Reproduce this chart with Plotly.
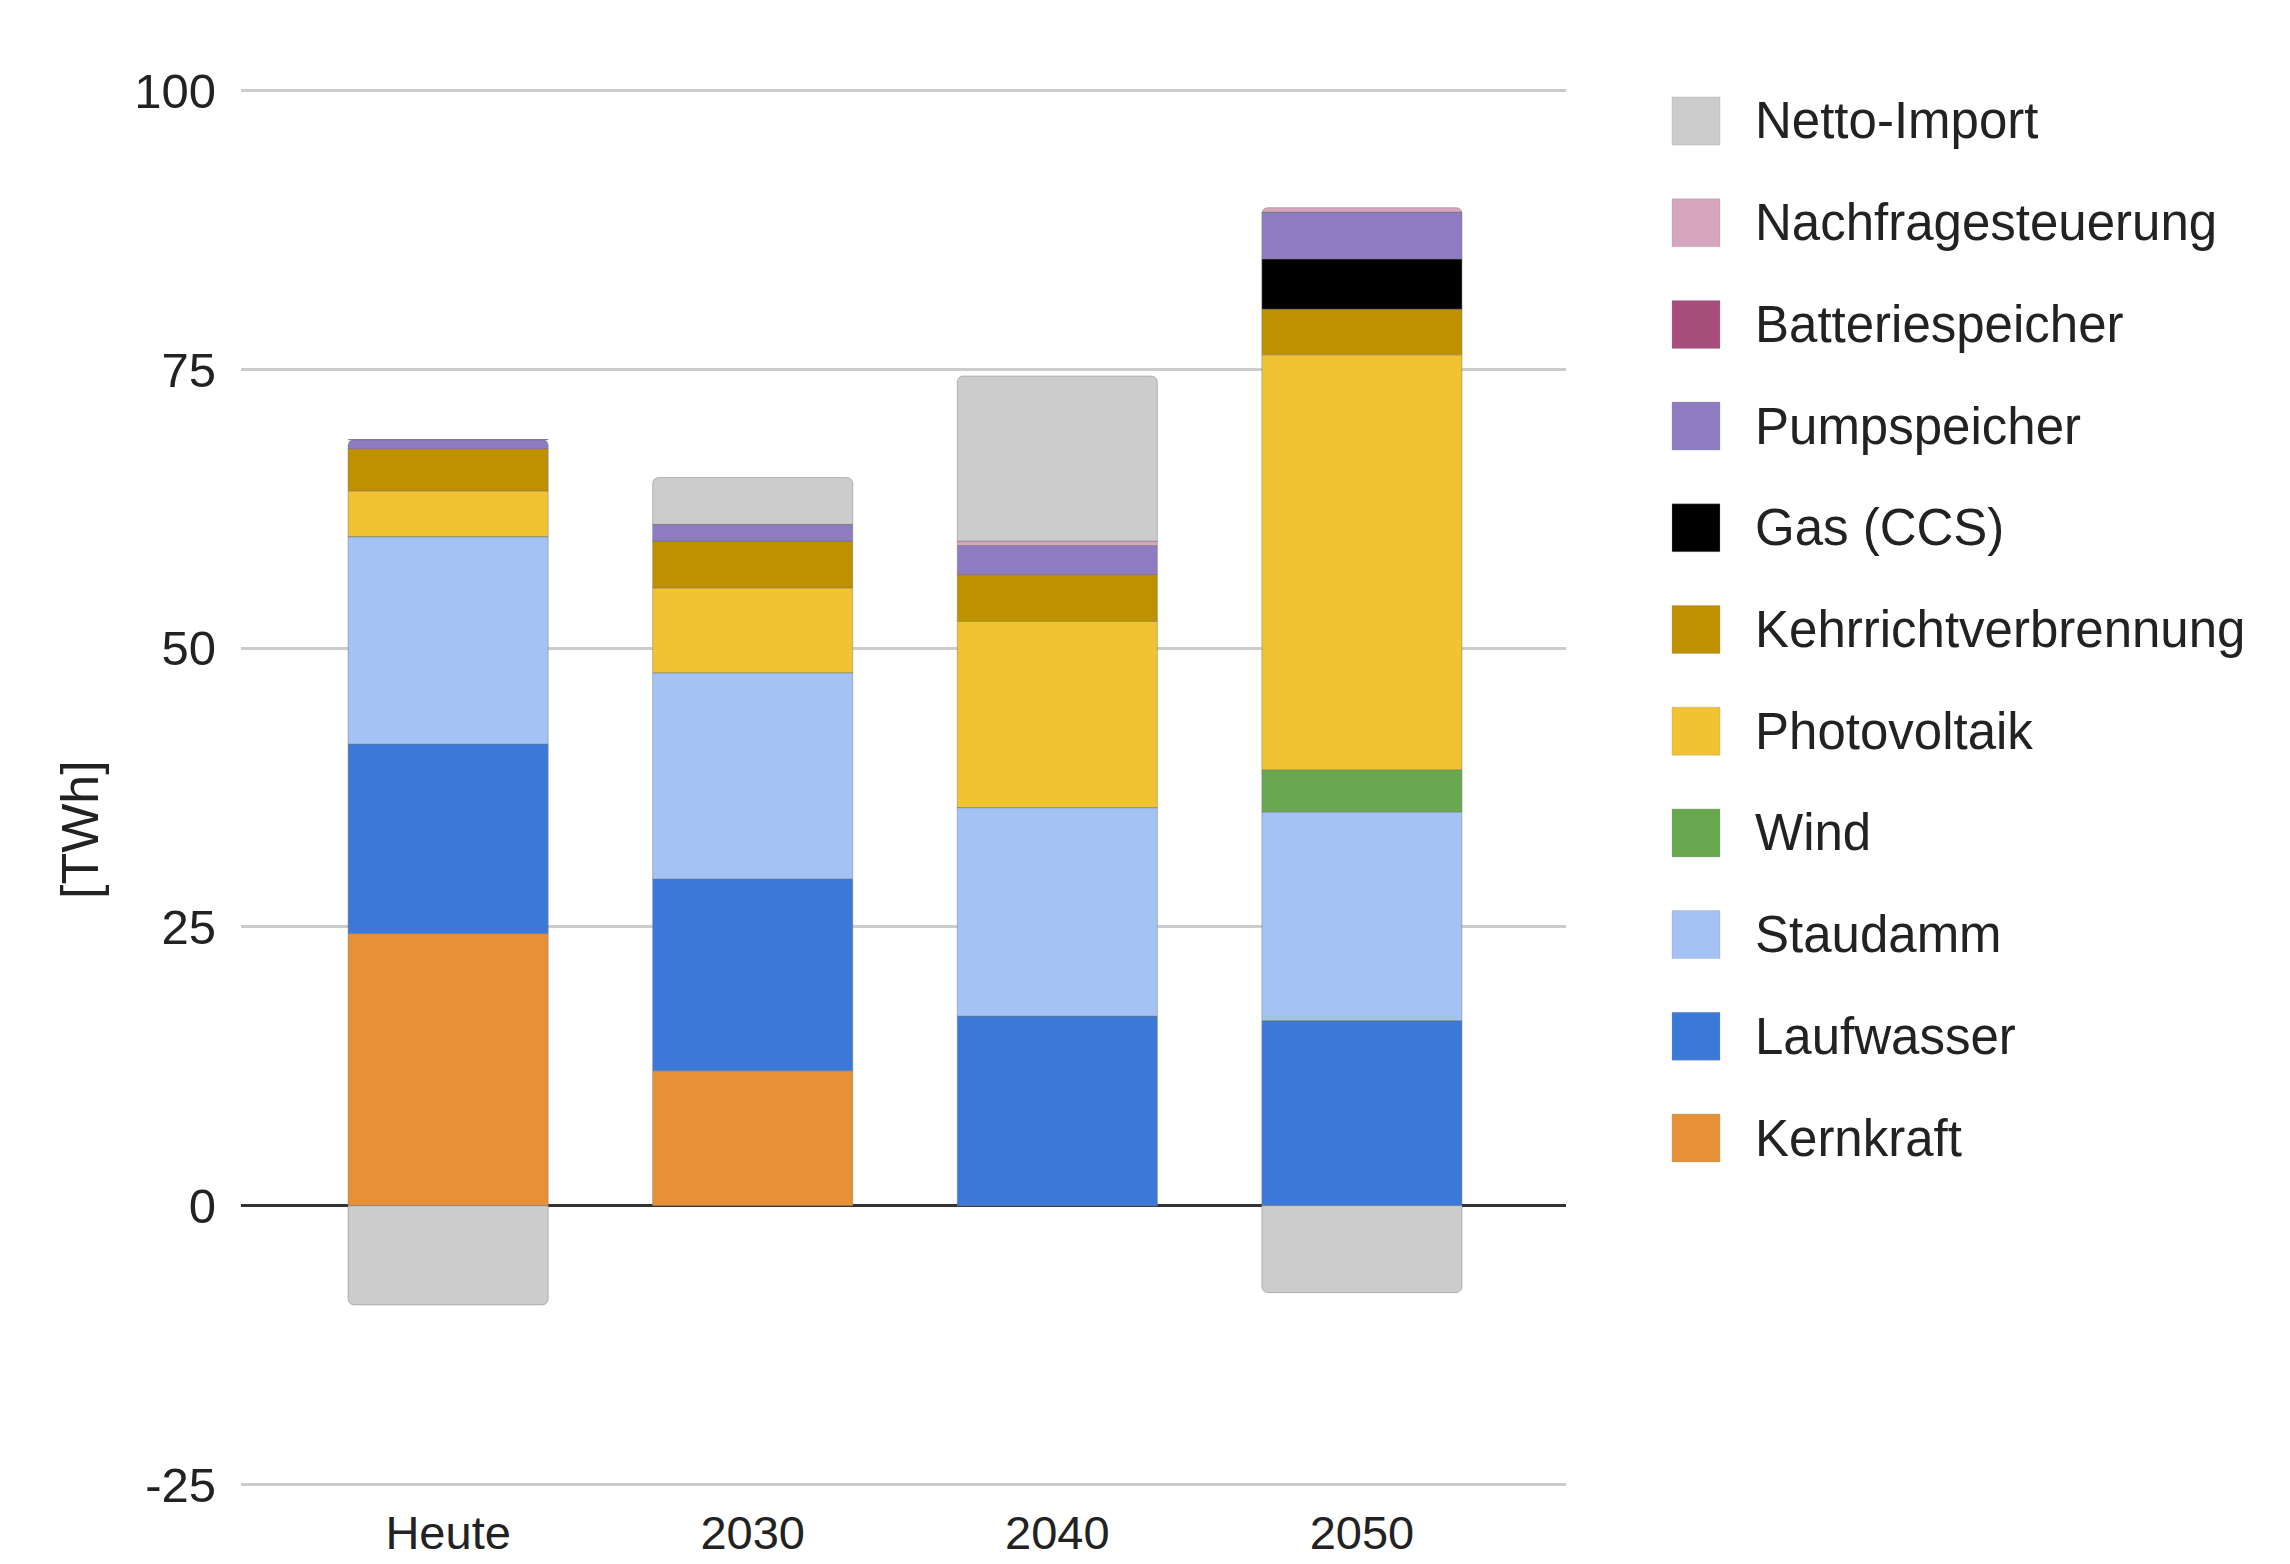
import plotly.graph_objects as go

categories = ["Heute", "2030", "2040", "2050"]

# stacking order: bottom -> top
series_names = ["Kernkraft", "Laufwasser", "Staudamm", "Wind", "Photovoltaik",
                "Kehrrichtverbrennung", "Gas (CCS)", "Pumpspeicher",
                "Batteriespeicher", "Nachfragesteuerung", "Netto-Import"]

kernkraft = [24.4, 12.1, 0.0, 0.0]
laufwasser = [17.0, 17.2, 17.0, 16.6]
staudamm = [18.6, 18.5, 18.7, 18.7]
wind = [0.0, 0.0, 0.0, 3.8]
photovoltaik = [4.1, 7.6, 16.7, 37.2]
kehrricht = [3.8, 4.2, 4.2, 4.1]
gas_ccs = [0.0, 0.0, 0.0, 4.5]
pumpspeicher = [0.8, 1.5, 2.6, 4.2]
batteriespeicher = [0.0, 0.0, 0.0, 0.0]
nachfrage = [0.0, 0.0, 0.4, 0.4]
netto_import = [-8.9, 4.2, 14.8, -7.8]

series_values = [kernkraft, laufwasser, staudamm, wind, photovoltaik, kehrricht,
                 gas_ccs, pumpspeicher, batteriespeicher, nachfrage, netto_import]

colors = ["#e69138", "#3c78d8", "#a4c2f4", "#6aa84f", "#f1c232", "#bf9000",
          "#000000", "#8e7cc3", "#a64d79", "#d5a6bd", "#cccccc"]

y_ticks = [-25, 0, 25, 50, 75, 100]
y_tick_labels = ["-25", "0", "25", "50", "75", "100"]
y_title = "[TWh]"

FONT = "Liberation Sans, Arial, sans-serif"
W, H = 2290, 1564
L, R, T, B = 241, 1566, 85, 1490

fig = go.Figure()
for name, vals, col in zip(series_names, series_values, colors):
    fig.add_trace(go.Bar(
        x=categories, y=vals, name=name, showlegend=False,
        width=0.657,
        marker=dict(color=col, line=dict(color="rgba(120,120,120,0.45)", width=1),
                    cornerradius=6 if name == "Netto-Import" else None),
        hovertemplate=name + ": %{y}<extra></extra>",
    ))

def px_x(sx):
    return (sx - L) / (R - L)

def px_y(sy):
    return (B - sy) / (B - T)

shapes = []
annotations = []
legend_items = list(zip(series_names, colors))[::-1]
for i, (name, col) in enumerate(legend_items):
    cy = 121 + i * 101.7
    shapes.append(dict(type="rect", xref="paper", yref="paper",
                       x0=px_x(1672), x1=px_x(1720),
                       y0=px_y(cy + 24), y1=px_y(cy - 24),
                       fillcolor=col, line=dict(width=1, color="rgba(150,150,150,0.3)"),
                       layer="above"))
    annotations.append(dict(xref="paper", yref="paper", x=px_x(1753), y=px_y(cy),
                            text=name, showarrow=False, xanchor="left", yanchor="middle",
                            font=dict(family=FONT, size=51, color="#222222")))

annotations.append(dict(xref="paper", yref="paper", x=px_x(80), y=px_y(830),
                        text=y_title, textangle=-90, showarrow=False,
                        xanchor="center", yanchor="middle",
                        font=dict(family=FONT, size=52, color="#222222")))

fig.update_layout(
    width=W, height=H,
    margin=dict(l=L, r=W - R, t=T, b=H - B, pad=0, autoexpand=False),
    barmode="relative",
    paper_bgcolor="white", plot_bgcolor="white",
    font=dict(family=FONT, size=50, color="#222222"),
    shapes=shapes, annotations=annotations,
    showlegend=False,
)
fig.update_xaxes(range=[-0.68, 3.67], showgrid=False, showline=False, ticks="",
                 automargin=False,
                 tickfont=dict(family=FONT, size=47, color="#222222"),
                 ticklabelstandoff=11)
fig.update_yaxes(range=[-25.5, 100.5], tickvals=y_ticks, ticktext=y_tick_labels,
                 showgrid=True, automargin=False,
                 gridcolor="#cccccc", gridwidth=3,
                 zeroline=True, zerolinecolor="#333333", zerolinewidth=3,
                 showline=False, ticks="",
                 tickfont=dict(family=FONT, size=49, color="#222222"),
                 ticklabelstandoff=24)

fig.write_html("out.html",
               config={"displayModeBar": False},
               post_script="document.body.style.margin='0';document.body.style.overflow='hidden';")
